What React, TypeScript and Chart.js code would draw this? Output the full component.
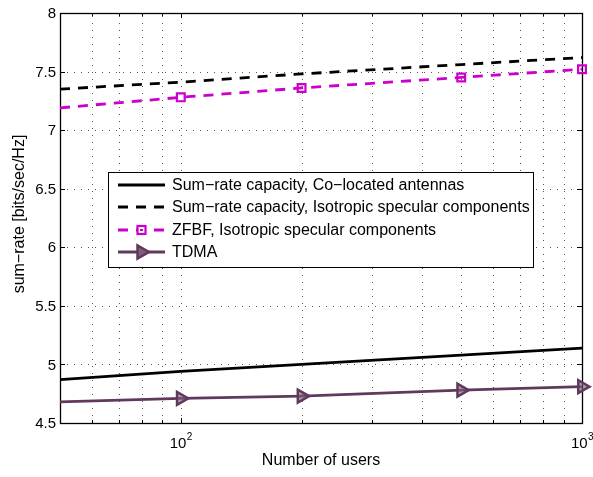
import React, { useEffect, useRef } from "react";
import { Chart, registerables } from "chart.js";

Chart.register(...registerables);

const users = [50, 100, 200, 500, 1000];
const coLocated = [4.87, 4.94, 5.0, 5.08, 5.14];
const isotropic = [7.35, 7.41, 7.48, 7.56, 7.62];
const zfbf = [7.19, 7.28, 7.36, 7.45, 7.52];
const tdma = [4.68, 4.71, 4.73, 4.78, 4.81];

const xGrid = [60, 70, 80, 90, 100, 200, 300, 400, 500, 600, 700, 800, 900, 1000];
const xMajor = [100, 1000];
const xMajorLabels = ["2", "3"];
const yTicks = [4.5, 5, 5.5, 6, 6.5, 7, 7.5, 8];
const yTickLabels = ["4.5", "5", "5.5", "6", "6.5", "7", "7.5", "8"];

const legendLabels = [
  "Sum\u2212rate capacity, Co\u2212located antennas",
  "Sum\u2212rate capacity, Isotropic specular components",
  "ZFBF, Isotropic specular components",
  "TDMA",
];

const FONT = "'Liberation Sans', Arial, Helvetica, sans-serif";
const MAGENTA = "#cc00cc";
const PURPLE = "#5f3a5c";
const DASH = [10, 8];

const pts = (ys: number[]) => users.map((u, i) => ({ x: u, y: ys[i] }));
const markerRadius = (r: number) => users.map((u) => (u === users[0] ? 0 : r));

const frame = {
  id: "frame",
  beforeDatasetsDraw(chart: any) {
    const { ctx, chartArea: a, scales } = chart;
    const xs = scales.x;
    const ys = scales.y;
    ctx.save();
    ctx.strokeStyle = "#555";
    ctx.lineWidth = 1;
    ctx.setLineDash([1, 6]);
    xGrid.forEach((v) => {
      const px = Math.round(xs.getPixelForValue(v)) + 0.5;
      ctx.beginPath();
      ctx.moveTo(px, a.bottom);
      ctx.lineTo(px, a.top);
      ctx.stroke();
    });
    yTicks.forEach((v) => {
      const py = Math.round(ys.getPixelForValue(v)) + 0.5;
      ctx.beginPath();
      ctx.moveTo(a.left, py);
      ctx.lineTo(a.right, py);
      ctx.stroke();
    });
    ctx.setLineDash([]);
    ctx.strokeStyle = "#000";
    xGrid.forEach((v) => {
      const px = Math.round(xs.getPixelForValue(v)) + 0.5;
      const len = xMajor.includes(v) ? 5 : 3;
      ctx.beginPath();
      ctx.moveTo(px, a.bottom);
      ctx.lineTo(px, a.bottom - len);
      ctx.moveTo(px, a.top);
      ctx.lineTo(px, a.top + len);
      ctx.stroke();
    });
    yTicks.forEach((v) => {
      const py = Math.round(ys.getPixelForValue(v)) + 0.5;
      ctx.beginPath();
      ctx.moveTo(a.left, py);
      ctx.lineTo(a.left + 5, py);
      ctx.moveTo(a.right, py);
      ctx.lineTo(a.right - 5, py);
      ctx.stroke();
    });
    ctx.lineWidth = 1.3;
    ctx.strokeRect(Math.round(a.left) + 0.5, Math.round(a.top) + 0.5, Math.round(a.right - a.left), Math.round(a.bottom - a.top));
    ctx.restore();
  },
  afterDraw(chart: any) {
    const { ctx, chartArea: a, scales } = chart;
    const xs = scales.x;
    const ys = scales.y;
    ctx.save();
    ctx.fillStyle = "#000";
    ctx.font = `15px ${FONT}`;
    ctx.textAlign = "right";
    ctx.textBaseline = "middle";
    yTicks.forEach((v, i) => {
      ctx.fillText(yTickLabels[i], a.left - 4, ys.getPixelForValue(v) + 1);
    });
    xMajor.forEach((v, i) => {
      const px = xs.getPixelForValue(v);
      ctx.font = `15px ${FONT}`;
      const w1 = ctx.measureText("10").width;
      ctx.font = `10px ${FONT}`;
      const w2 = ctx.measureText(xMajorLabels[i]).width;
      const x0 = px - (w1 + w2) / 2;
      ctx.textAlign = "left";
      ctx.textBaseline = "alphabetic";
      ctx.font = `15px ${FONT}`;
      ctx.fillText("10", x0, a.bottom + 25);
      ctx.font = `10px ${FONT}`;
      ctx.fillText(xMajorLabels[i], x0 + w1 + 0.5, a.bottom + 17);
    });
    ctx.font = `16px ${FONT}`;
    ctx.textAlign = "center";
    ctx.textBaseline = "middle";
    ctx.fillText("Number of users", (a.left + a.right) / 2, a.bottom + 38);
    ctx.save();
    ctx.translate(20, 214);
    ctx.rotate(-Math.PI / 2);
    ctx.fillText("sum\u2212rate [bits/sec/Hz]", 0, 0);
    ctx.restore();

    const bx = 108.5;
    const by = 172.5;
    const bw = 425;
    const bh = 95;
    ctx.fillStyle = "#fff";
    ctx.fillRect(bx, by, bw, bh);
    ctx.strokeStyle = "#000";
    ctx.lineWidth = 1;
    ctx.strokeRect(bx, by, bw, bh);
    const rows = [185, 207, 230, 252];
    const lx0 = 118;
    const lx1 = 165;
    const mid = (lx0 + lx1) / 2;
    const styles = [
      { color: "#000", dash: [] as number[], marker: "" },
      { color: "#000", dash: DASH, marker: "" },
      { color: MAGENTA, dash: DASH, marker: "rect" },
      { color: PURPLE, dash: [] as number[], marker: "tri" },
    ];
    styles.forEach((s, i) => {
      const y = rows[i];
      ctx.strokeStyle = s.color;
      ctx.lineWidth = 2.8;
      ctx.setLineDash(s.dash);
      ctx.beginPath();
      ctx.moveTo(lx0, y);
      ctx.lineTo(lx1, y);
      ctx.stroke();
      ctx.setLineDash([]);
      if (s.marker === "rect") {
        ctx.fillStyle = "#fff";
        ctx.fillRect(mid - 4, y - 4, 8, 8);
        ctx.lineWidth = 2.2;
        ctx.strokeRect(mid - 4, y - 4, 8, 8);
        ctx.fillStyle = s.color;
        ctx.fillRect(mid - 1.5, y - 1, 3, 2);
      }
      if (s.marker === "tri") {
        ctx.lineWidth = 2.5;
        ctx.fillStyle = "#7d5f7b";
        ctx.beginPath();
        ctx.moveTo(mid + 7.5, y);
        ctx.lineTo(mid - 4, y - 6.5);
        ctx.lineTo(mid - 4, y + 6.5);
        ctx.closePath();
        ctx.fill();
        ctx.stroke();
      }
      ctx.fillStyle = "#000";
      ctx.font = `16px ${FONT}`;
      ctx.textAlign = "left";
      ctx.textBaseline = "middle";
      ctx.fillText(legendLabels[i], 172, y + 1);
    });
    ctx.restore();
  },
};

export default function App() {
  const ref = useRef<HTMLCanvasElement>(null);
  useEffect(() => {
    if (!ref.current) return;
    const chart = new Chart(ref.current, {
      type: "line",
      data: {
        datasets: [
          {
            label: legendLabels[0],
            data: pts(coLocated),
            borderColor: "#000",
            borderWidth: 2.8,
            pointRadius: 0,
          },
          {
            label: legendLabels[1],
            data: pts(isotropic),
            borderColor: "#000",
            borderWidth: 2.8,
            borderDash: DASH,
            pointRadius: 0,
          },
          {
            label: legendLabels[2],
            data: pts(zfbf),
            borderColor: MAGENTA,
            borderWidth: 2.8,
            borderDash: DASH,
            pointStyle: "rect",
            pointRadius: markerRadius(5.5),
            pointBorderWidth: 2.2,
            pointBorderColor: MAGENTA,
            pointBackgroundColor: "rgba(255,255,255,0)",
            clip: false,
          },
          {
            label: legendLabels[3],
            data: pts(tdma),
            borderColor: PURPLE,
            borderWidth: 2.8,
            pointStyle: "triangle",
            rotation: 90,
            pointRadius: markerRadius(7.5),
            pointBorderWidth: 2.5,
            pointBorderColor: PURPLE,
            pointBackgroundColor: "rgba(125,95,123,0.6)",
            clip: false,
          },
        ] as any,
      },
      options: {
        animation: false,
        responsive: false,
        layout: { padding: { left: 60, right: 11, top: 13, bottom: 54 } },
        plugins: { legend: { display: false }, tooltip: { enabled: false } },
        elements: { line: { tension: 0 } },
        scales: {
          x: { type: "logarithmic", min: 50, max: 1000, display: false },
          y: { type: "linear", min: 4.5, max: 8, display: false },
        },
      },
      plugins: [frame],
    });
    return () => chart.destroy();
  }, []);
  return (
    <div style={{ position: "fixed", left: 0, top: 0, width: 593, height: 477, background: "#fff" }}>
      <canvas ref={ref} width={593} height={477} />
    </div>
  );
}
